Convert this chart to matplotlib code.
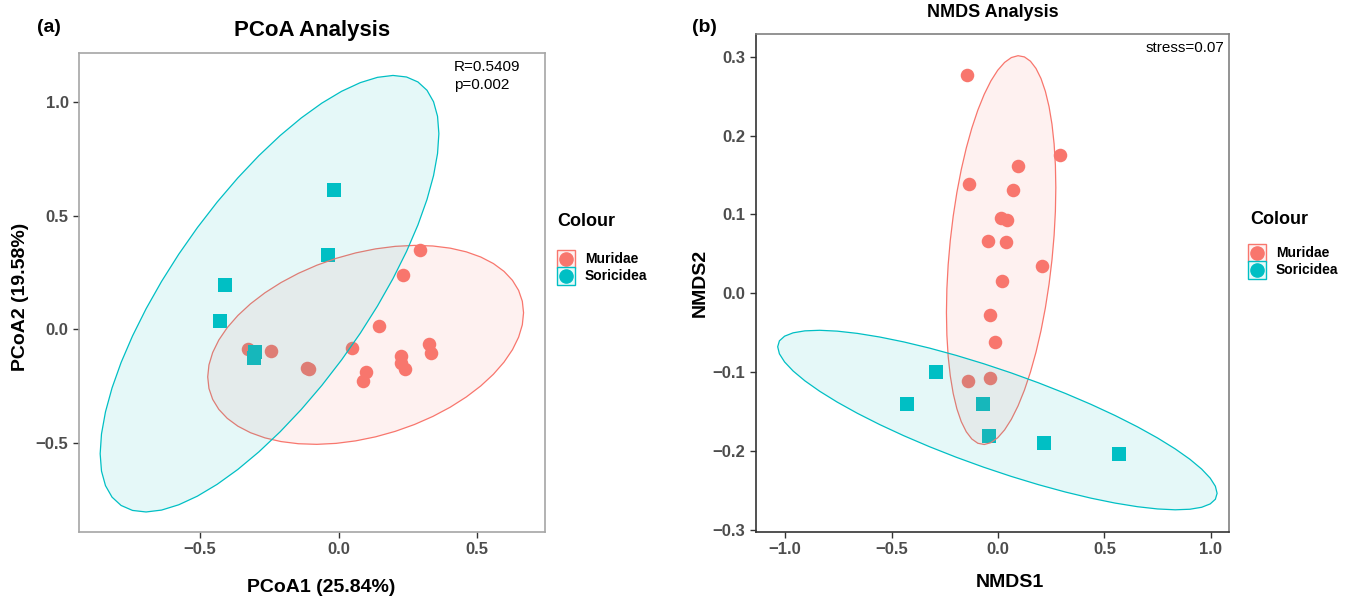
import numpy as np
import matplotlib
matplotlib.use("Agg")
from matplotlib import pyplot as plt
from matplotlib.patches import Polygon
from matplotlib.colors import to_rgb

plt.rcParams['font.family'] = ['Liberation Sans', 'DejaVu Sans']

groups = ["Muridae", "Soricidea"]
colors = ["#F8766D", "#00BFC4"]

# PCoA coordinates
pcoa_mur_x = [-0.328, -0.245, -0.113, -0.108, 0.048, 0.147, 0.234, 0.293,
              0.227, 0.224, 0.238, 0.098, 0.087, 0.328, 0.334]
pcoa_mur_y = [-0.087, -0.097, -0.170, -0.176, -0.084, 0.015, 0.238, 0.348,
              -0.118, -0.151, -0.176, -0.188, -0.228, -0.065, -0.106]
pcoa_sor_x = [-0.015, -0.040, -0.409, -0.427, -0.300, -0.305]
pcoa_sor_y = [0.611, 0.325, 0.193, 0.037, -0.103, -0.129]

# NMDS coordinates
nmds_mur_x = [-0.147, 0.293, 0.094, -0.138, 0.069, 0.016, 0.042, -0.047,
              0.038, 0.207, 0.019, -0.039, -0.016, -0.142, -0.038]
nmds_mur_y = [0.277, 0.176, 0.161, 0.139, 0.131, 0.096, 0.093, 0.066,
              0.065, 0.034, 0.015, -0.028, -0.062, -0.112, -0.107]
nmds_sor_x = [-0.290, -0.426, -0.069, -0.042, 0.217, 0.568]
nmds_sor_y = [-0.100, -0.140, -0.140, -0.181, -0.190, -0.204]

W, H = 1352, 604


def cov_trob(x, nu=5, maxit=25, tol=0.01):
    n, p = x.shape
    loc = x.mean(axis=0)
    w = np.ones(n)
    for it in range(maxit):
        w0 = w
        X = x - loc
        S = (X * (w / w.sum())[:, None]).T @ X
        Q = np.einsum('ij,jk,ik->i', X, np.linalg.inv(S), X)
        w = (nu + p) / (nu + Q)
        loc = (w[:, None] * x).sum(axis=0) / w.sum()
        if np.all(np.abs(w - w0) < tol):
            break
    cov = (X * w[:, None]).T @ X / n
    return loc, cov


def ellipse_pts(xs, ys, robust=True, level=0.95, segments=51):
    x = np.column_stack([xs, ys])
    n = len(xs)
    if robust:
        loc, cov = cov_trob(x)
    else:
        loc, cov = x.mean(axis=0), np.cov(x.T)
    d = n - 1
    fq = d / 2 * ((1 - level) ** (-2 / d) - 1)  # qf(level, 2, d)
    radius = np.sqrt(2 * fq)
    th = np.linspace(0, 2 * np.pi, segments)
    circ = np.column_stack([np.cos(th), np.sin(th)])
    L = np.linalg.cholesky(cov)
    return loc + radius * circ @ L.T


def panel(ax, mx, my, sx, sy, robust):
    ax.scatter(mx, my, s=95, marker='o', color=colors[0], linewidths=0, zorder=2)
    ax.scatter(sx, sy, s=90, marker='s', color=colors[1], linewidths=0, zorder=2)
    for (xs, ys), c in zip([(mx, my), (sx, sy)], colors):
        pts = ellipse_pts(xs, ys, robust)
        ax.add_patch(Polygon(pts, closed=True, facecolor=c, alpha=0.1,
                             edgecolor='none', zorder=3))
        ax.add_patch(Polygon(pts, closed=True, facecolor='none',
                             edgecolor=c, lw=0.9, zorder=3))
    ax.tick_params(labelsize=12, colors='#333333', labelcolor='#4D4D4D',
                   length=4, width=1)
    for lab in ax.get_xticklabels() + ax.get_yticklabels():
        lab.set_fontweight('bold')


def light(c, a=0.1):
    r = np.array(to_rgb(c))
    return tuple(1 - a + a * r)


def legend(fig, tx, ty, kx, ky, step, lx):
    # positions in pixels from top-left
    fig.text(tx / W, 1 - ty / H, 'Colour', fontsize=13, fontweight='bold',
             va='center', ha='left')
    for i, (g, c) in enumerate(zip(groups, colors)):
        yy = 1 - (ky + i * step) / H
        fig.lines.append(plt.Line2D([kx / W], [yy], marker='s', ls='none',
                                    markersize=12.5, markerfacecolor=light(c),
                                    markeredgecolor=c, markeredgewidth=1,
                                    transform=fig.transFigure))
        fig.lines.append(plt.Line2D([kx / W], [yy], marker='o', ls='none',
                                    markersize=9.5, color=c,
                                    transform=fig.transFigure))
        fig.text(lx / W, yy, g, fontsize=10, fontweight='bold',
                 va='center', ha='left')


fig = plt.figure(figsize=(13.52, 6.04), dpi=100)

ax1 = fig.add_axes([79 / W, 1 - 532 / H, 466 / W, 479 / H])
panel(ax1, pcoa_mur_x, pcoa_mur_y, pcoa_sor_x, pcoa_sor_y, robust=False)
ax1.set_xlim(-0.937, 0.745)
ax1.set_ylim(-0.894, 1.216)
ax1.set_xticks([-0.5, 0, 0.5])
ax1.set_xticklabels(['\u22120.5', '0.0', '0.5'])
ax1.set_yticks([-0.5, 0, 0.5, 1.0])
ax1.set_yticklabels(['\u22120.5', '0.0', '0.5', '1.0'])
for s in ax1.spines.values():
    s.set_color('#A6A6A6')
    s.set_linewidth(1.2)
ax1.set_xlabel('PCoA1 (25.84%)', fontsize=14, fontweight='bold')
ax1.xaxis.set_label_coords(0.52, -0.098)
ax1.set_ylabel('PCoA2 (19.58%)', fontsize=14, fontweight='bold')
ax1.yaxis.set_label_coords(-0.108, 0.49)
ax1.set_title('PCoA Analysis', fontsize=16, fontweight='bold', pad=12)
ax1.text(0.805, 0.985, 'R=0.5409\np=0.002', transform=ax1.transAxes,
         fontsize=11, va='top', ha='left', linespacing=1.35)
legend(fig, 557, 222, 566, 259, 17, 585)
fig.text(37 / W, 1 - 27 / H, '(a)', fontsize=14, fontweight='bold', va='center')

ax2 = fig.add_axes([756 / W, 1 - 532 / H, 473 / W, 498 / H])
panel(ax2, nmds_mur_x, nmds_mur_y, nmds_sor_x, nmds_sor_y, robust=True)
ax2.set_xlim(-1.137, 1.085)
ax2.set_ylim(-0.303, 0.329)
ax2.set_xticks([-1.0, -0.5, 0, 0.5, 1.0])
ax2.set_xticklabels(['\u22121.0', '\u22120.5', '0.0', '0.5', '1.0'])
ax2.set_yticks([-0.3, -0.2, -0.1, 0, 0.1, 0.2, 0.3])
ax2.set_yticklabels(['\u22120.3', '\u22120.2', '\u22120.1', '0.0', '0.1', '0.2', '0.3'])
for k, s in ax2.spines.items():
    s.set_color('#333333' if k in ('left', 'bottom') else '#808080')
    s.set_linewidth(1.2)
ax2.set_xlabel('NMDS1', fontsize=14, fontweight='bold')
ax2.xaxis.set_label_coords(0.537, -0.085)
ax2.set_ylabel('NMDS2', fontsize=14, fontweight='bold')
ax2.yaxis.set_label_coords(-0.1, 0.5)
ax2.set_title('NMDS Analysis', fontsize=13, fontweight='bold', pad=12)
ax2.text(0.99, 0.985, 'stress=0.07', transform=ax2.transAxes,
         fontsize=11, va='top', ha='right')
legend(fig, 1250, 220, 1257, 253, 17, 1276)
fig.text(692 / W, 1 - 27 / H, '(b)', fontsize=14, fontweight='bold', va='center')

fig.savefig('out.png', dpi=100)
